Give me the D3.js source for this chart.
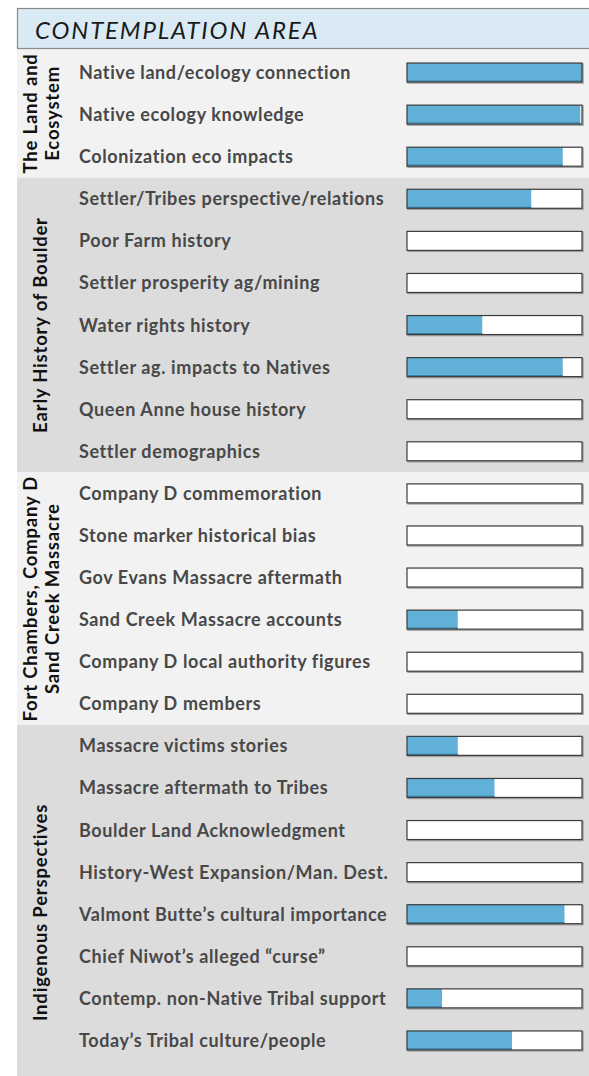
<!DOCTYPE html>
<html>
<head>
<meta charset="utf-8">
<script src="https://cdn.jsdelivr.net/npm/d3@7"></script>
<style>
  body { margin: 0; background: #fff; }
  text { font-family: Lato, "Open Sans", sans-serif; }
</style>
</head>
<body>
<div id="chart-area"></div>
<script>
// topic rows, top to bottom
const topics = [
  "Native land/ecology connection", "Native ecology knowledge", "Colonization eco impacts",
  "Settler/Tribes perspective/relations", "Poor Farm history", "Settler prosperity ag/mining",
  "Water rights history", "Settler ag. impacts to Natives", "Queen Anne house history",
  "Settler demographics",
  "Company D commemoration", "Stone marker historical bias", "Gov Evans Massacre aftermath",
  "Sand Creek Massacre accounts", "Company D local authority figures", "Company D members",
  "Massacre victims stories", "Massacre aftermath to Tribes", "Boulder Land Acknowledgment",
  "History-West Expansion/Man. Dest.", "Valmont Butte\u2019s cultural importance",
  "Chief Niwot\u2019s alleged \u201ccurse\u201d", "Contemp. non-Native Tribal support",
  "Today\u2019s Tribal culture/people"
]
// share of the bar that is filled (percent)
const values = [100, 99, 89, 71, 0, 0, 43, 89, 0, 0, 0, 0, 0, 29, 0, 0, 29, 50, 0, 0, 90, 0, 20, 60]
// section names (one entry per text line) and how many rows each holds
const groupNames = [
  ["The Land and", "Ecosystem"],
  ["Early History of Boulder"],
  ["Fort Chambers, Company D", "Sand Creek Massacre"],
  ["Indigenous Perspectives"]
]
const groupSizes = [3, 7, 6, 8]
const title = "CONTEMPLATION AREA"

const W = 589, H = 1076
const PANEL_LEFT = 17
const HEADER = { TOP: 8, BOTTOM: 49 }
const BAR = { LEFT: 407, RIGHT: 582, HEIGHT: 19 }

const svg = d3.select("#chart-area").append("svg")
  .attr("width", W)
  .attr("height", H)

// rows
const y = d3.scaleBand()
  .domain(topics)
  .range([51.5, 1061.5])
  .paddingInner(0)

const x = d3.scaleLinear()
  .domain([0, 100])
  .range([BAR.LEFT, BAR.RIGHT])

// build group extents from the sizes
let start = 0
const groups = groupSizes.map((n, i) => {
  const first = topics[start], last = topics[start + n - 1]
  start += n
  const top = i === 0 ? HEADER.BOTTOM : y(first)
  const bottom = i === groupSizes.length - 1 ? 1100 : y(last) + y.bandwidth()
  return { names: groupNames[i], top, bottom, shade: i % 2 === 0 ? "#f2f2f2" : "#dcdcdc" }
})

// section backgrounds
svg.selectAll("rect.section")
  .data(groups)
  .enter().append("rect")
  .attr("class", "section")
  .attr("x", PANEL_LEFT)
  .attr("y", d => d.top)
  .attr("width", W - PANEL_LEFT)
  .attr("height", d => d.bottom - d.top)
  .attr("fill", d => d.shade)

// header
svg.append("rect")
  .attr("x", PANEL_LEFT + 0.5)
  .attr("y", HEADER.TOP + 0.5)
  .attr("width", W)
  .attr("height", HEADER.BOTTOM - HEADER.TOP - 1)
  .attr("fill", "#d9eaf5")
  .attr("stroke", "#8a8a8a")
  .attr("stroke-width", 1.2)

svg.append("text")
  .attr("x", 35)
  .attr("y", 38.5)
  .attr("font-size", 24)
  .attr("font-style", "italic")
  .attr("letter-spacing", 1.85)
  .attr("fill", "#1a1a1a")
  .text(title)

// section labels, rotated
const gl = svg.selectAll("text.group")
  .data(groups)
  .enter().append("text")
  .attr("class", "group")
  .attr("font-size", 18.5)
  .attr("font-weight", 700)
  .attr("letter-spacing", 0.8)
  .attr("fill", "#111")
  .attr("text-anchor", "middle")
  .attr("transform", d => {
    const bx = d.names.length > 1 ? 37 : 47
    return `translate(${bx}, ${(d.top + d.bottom) / 2}) rotate(-90)`
  })

gl.selectAll("tspan")
  .data(d => d.names)
  .enter().append("tspan")
  .attr("x", 0)
  .attr("y", (d, i) => i * 22)
  .text(d => d)

// row labels
svg.selectAll("text.topic")
  .data(topics)
  .enter().append("text")
  .attr("class", "topic")
  .attr("x", 79)
  .attr("y", d => y(d) + y.bandwidth() / 2 + 6.5)
  .attr("font-size", 18)
  .attr("font-weight", 700)
  .attr("letter-spacing", 0.6)
  .attr("fill", "#484848")
  .text(d => d)

// bars
const rows = svg.selectAll("g.bar")
  .data(topics.map((t, i) => ({ topic: t, value: values[i] })))
  .enter().append("g")
  .attr("class", "bar")
  .attr("transform", d => `translate(0, ${y(d.topic) + (y.bandwidth() - BAR.HEIGHT) / 2})`)

// soft shadow
rows.append("rect")
  .attr("x", x(0) + 1)
  .attr("y", 1)
  .attr("width", x(100) - x(0))
  .attr("height", BAR.HEIGHT)
  .attr("fill", "none")
  .attr("stroke", "#a0a0a0")
  .attr("stroke-width", 1.5)

rows.append("rect")
  .attr("x", x(0))
  .attr("y", 0)
  .attr("width", x(100) - x(0))
  .attr("height", BAR.HEIGHT)
  .attr("fill", "#fff")

rows.append("rect")
  .attr("x", x(0))
  .attr("y", 0)
  .attr("width", d => x(d.value) - x(0))
  .attr("height", BAR.HEIGHT)
  .attr("fill", "#60b0d7")

rows.filter(d => d.value > 0).append("line")
  .attr("x1", x(0))
  .attr("x2", d => x(d.value))
  .attr("y1", BAR.HEIGHT - 1)
  .attr("y2", BAR.HEIGHT - 1)
  .attr("stroke", "#3a7fa6")
  .attr("stroke-width", 1.2)

rows.append("rect")
  .attr("x", x(0))
  .attr("y", 0)
  .attr("width", x(100) - x(0))
  .attr("height", BAR.HEIGHT)
  .attr("fill", "none")
  .attr("stroke", "#3c3c3c")
  .attr("stroke-width", 1.2)
</script>
</body>
</html>
